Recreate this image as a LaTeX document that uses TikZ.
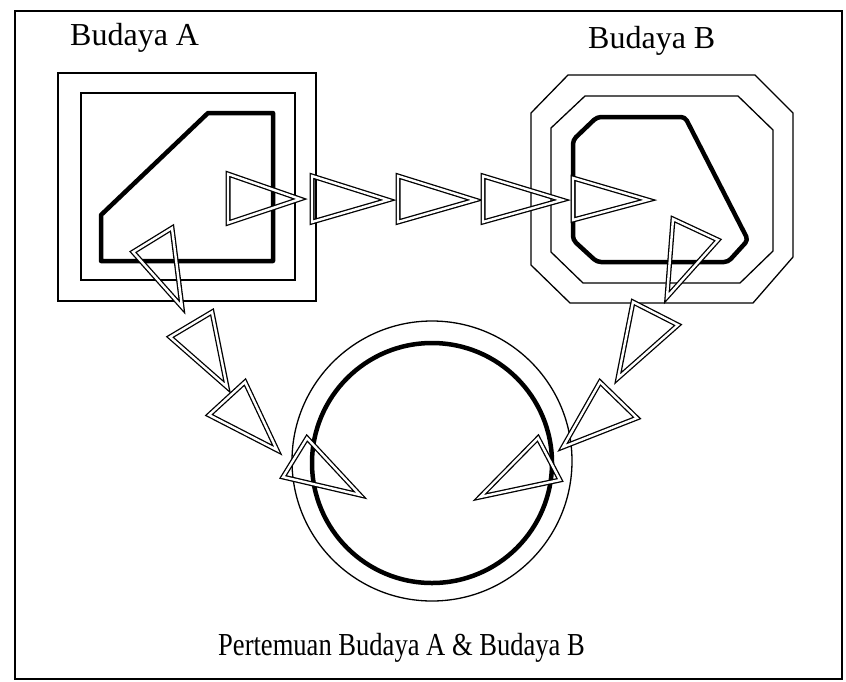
\documentclass[tikz,border=0pt]{standalone}
\usepackage{fontspec}
\setmainfont{Liberation Serif}
\begin{document}
\begin{tikzpicture}[x=1pt,y=-1pt,
  thin box/.style={draw=black,line width=1.3pt},
  thick shape/.style={draw=black,line width=4.5pt,line join=round},
  tri/.style={draw=black,double=white,double distance=2.4pt,line width=1.3pt,line join=miter,miter limit=6},
  label/.style={font=\fontsize{32}{36}\selectfont,inner sep=0pt,anchor=base west}]
\useasboundingbox (0,0) rectangle (846,681);
% frame
\draw[line width=2pt] (15,11) rectangle (842,679);
% Budaya A boxes
\draw[thin box] (58,73) rectangle (316,301);
\draw[thin box] (81,93) rectangle (295,280);
\draw[thick shape] (208,113) -- (273,113) -- (273,261) -- (101,261) -- (101,215) -- cycle;
% Budaya B boxes
\draw[thin box] (568,75) -- (755,75) -- (793,113) -- (793,257) -- (753,303) -- (570,303) -- (531,265) -- (531,113) -- cycle;
\draw[thin box] (585,96) -- (738,96) -- (773,130) -- (773,251) -- (740,283) -- (583,283) -- (551,252) -- (551,128) -- cycle;
\draw[thick shape,rounded corners=4pt] (573,140) -- (597,117) -- (685,117) -- (748,240) -- (728,262) -- (597,262) -- (573,240) -- cycle;
% meeting circle
\draw[thin box] (432,461) circle[radius=140];
\draw[draw=black,line width=4.5pt] (432,463) circle[radius=120];
% horizontal row of triangles
\draw[tri] (228,174) -- (300,199) -- (228,223) -- cycle;
\draw[tri] (312,176) -- (388,200) -- (312,222) -- cycle;
\draw[tri] (398,176) -- (475,200) -- (398,222) -- cycle;
\draw[tri] (483,176) -- (562,200) -- (483,222) -- cycle;
\draw[tri] (573,178) -- (648,200) -- (573,220) -- cycle;
% right side triangles
\draw[tri] (673,219) -- (718,240) -- (667,297) -- cycle;
\draw[tri] (633,302) -- (678,325) -- (618,378) -- cycle;
\draw[tri] (600,382) -- (637,418) -- (563,447) -- cycle;
\draw[tri] (538,438) -- (560,480) -- (480,497) -- cycle;
% left side triangles
\draw[tri] (133,252) -- (172,228) -- (182,307) -- cycle;
\draw[tri] (170,337) -- (212,312) -- (227,387) -- cycle;
\draw[tri] (209,415) -- (245,382) -- (277,450) -- cycle;
\draw[tri] (307,438) -- (283,477) -- (360,495) -- cycle;
% labels
\node[label] (la) at (70,45) {Budaya A};
\node[label] (lb) at (588,48) {Budaya B};
\node[label] (lc) at (218,655) {\scalebox{0.83}[1]{Pertemuan Budaya A \& Budaya B}};
\end{tikzpicture}
\end{document}
